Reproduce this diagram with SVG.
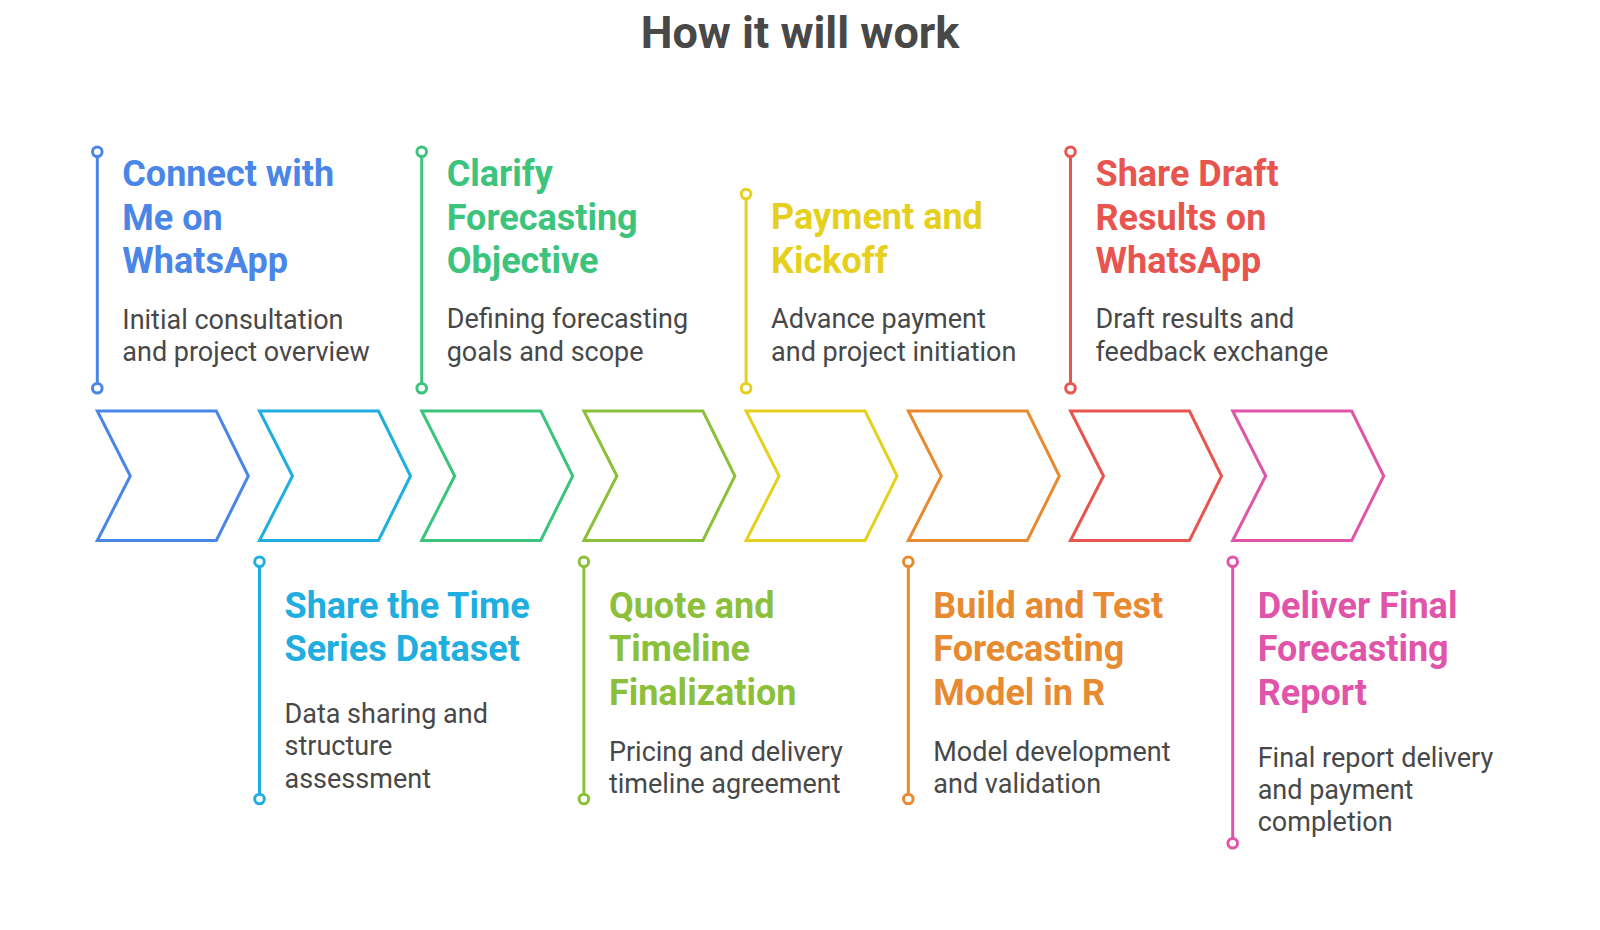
<svg xmlns="http://www.w3.org/2000/svg" width="1600" height="930" viewBox="0 0 1600 930">
<style>
.bg{fill:#ffffff}
.title{font-family:Roboto,"Liberation Sans",sans-serif;font-weight:700;font-size:45px;fill:#484848;text-anchor:middle}
.h{font-family:Roboto,"Liberation Sans",sans-serif;font-weight:700;font-size:36px}
.d{font-family:Roboto,"Liberation Sans",sans-serif;font-weight:400;font-size:27px;fill:#484848}
.chev{fill:none;stroke-width:3}
.ln{stroke-width:3;fill:none}
.dot{fill:#ffffff;stroke-width:3}
.c1{stroke:#4A86E8}.t1{fill:#4A86E8}
.c2{stroke:#20ADE0}.t2{fill:#20ADE0}
.c3{stroke:#3CC47C}.t3{fill:#3CC47C}
.c4{stroke:#8CC03A}.t4{fill:#8CC03A}
.c5{stroke:#E6D01E}.t5{fill:#E6D01E}
.c6{stroke:#E88A30}.t6{fill:#E88A30}
.c7{stroke:#E8554F}.t7{fill:#E8554F}
.c8{stroke:#E055AA}.t8{fill:#E055AA}
</style>
<rect class="bg" x="0" y="0" width="1600" height="930"/>
<text class="title" x="800" y="47.5">How it will work</text>

<g id="connectors">
  <line class="ln c1" x1="97.3" y1="156.5" x2="97.3" y2="383.5"/>
  <circle class="dot c1" cx="97.3" cy="151.7" r="4.8"/>
  <circle class="dot c1" cx="97.3" cy="388.3" r="4.8"/>
  <line class="ln c2" x1="259.5" y1="566.5" x2="259.5" y2="794.2"/>
  <circle class="dot c2" cx="259.5" cy="561.7" r="4.8"/>
  <circle class="dot c2" cx="259.5" cy="799" r="4.8"/>
  <line class="ln c3" x1="421.7" y1="156.5" x2="421.7" y2="383.5"/>
  <circle class="dot c3" cx="421.7" cy="151.7" r="4.8"/>
  <circle class="dot c3" cx="421.7" cy="388.3" r="4.8"/>
  <line class="ln c4" x1="583.9" y1="566.5" x2="583.9" y2="794.2"/>
  <circle class="dot c4" cx="583.9" cy="561.7" r="4.8"/>
  <circle class="dot c4" cx="583.9" cy="799" r="4.8"/>
  <line class="ln c5" x1="746.1" y1="198.8" x2="746.1" y2="383.5"/>
  <circle class="dot c5" cx="746.1" cy="194" r="4.8"/>
  <circle class="dot c5" cx="746.1" cy="388.3" r="4.8"/>
  <line class="ln c6" x1="908.3" y1="566.5" x2="908.3" y2="794.2"/>
  <circle class="dot c6" cx="908.3" cy="561.7" r="4.8"/>
  <circle class="dot c6" cx="908.3" cy="799" r="4.8"/>
  <line class="ln c7" x1="1070.5" y1="156.5" x2="1070.5" y2="383.5"/>
  <circle class="dot c7" cx="1070.5" cy="151.7" r="4.8"/>
  <circle class="dot c7" cx="1070.5" cy="388.3" r="4.8"/>
  <line class="ln c8" x1="1232.7" y1="566.5" x2="1232.7" y2="838.5"/>
  <circle class="dot c8" cx="1232.7" cy="561.7" r="4.8"/>
  <circle class="dot c8" cx="1232.7" cy="843.3" r="4.8"/>
</g>

<g id="step1">
  <path class="chev c1" d="M97.3 411 L216.3 411 L248.3 476 L216.3 540.5 L97.3 540.5 L130.3 476 Z"/>
  <text class="h t1" x="122.3" y="186">Connect with</text>
  <text class="h t1" x="122.3" y="229.5">Me on</text>
  <text class="h t1" x="122.3" y="273">WhatsApp</text>
  <text class="d" x="122.3" y="328.5">Initial consultation</text>
  <text class="d" x="122.3" y="361">and project overview</text>
</g>
<g id="step2">
  <path class="chev c2" d="M259.5 411 L378.5 411 L410.5 476 L378.5 540.5 L259.5 540.5 L292.5 476 Z"/>
  <text class="h t2" x="284.5" y="618">Share the Time</text>
  <text class="h t2" x="284.5" y="661.3">Series Dataset</text>
  <text class="d" x="284.5" y="722.7">Data sharing and</text>
  <text class="d" x="284.5" y="755.2">structure</text>
  <text class="d" x="284.5" y="787.7">assessment</text>
</g>
<g id="step3">
  <path class="chev c3" d="M421.7 411 L540.7 411 L572.7 476 L540.7 540.5 L421.7 540.5 L454.7 476 Z"/>
  <text class="h t3" x="446.7" y="186">Clarify</text>
  <text class="h t3" x="446.7" y="229.5">Forecasting</text>
  <text class="h t3" x="446.7" y="273">Objective</text>
  <text class="d" x="446.7" y="328">Defining forecasting</text>
  <text class="d" x="446.7" y="360.5">goals and scope</text>
</g>
<g id="step4">
  <path class="chev c4" d="M583.9 411 L702.9 411 L734.9 476 L702.9 540.5 L583.9 540.5 L616.9 476 Z"/>
  <text class="h t4" x="608.9" y="618">Quote and</text>
  <text class="h t4" x="608.9" y="661.3">Timeline</text>
  <text class="h t4" x="608.9" y="705">Finalization</text>
  <text class="d" x="608.9" y="761">Pricing and delivery</text>
  <text class="d" x="608.9" y="793">timeline agreement</text>
</g>
<g id="step5">
  <path class="chev c5" d="M746.1 411 L865.1 411 L897.1 476 L865.1 540.5 L746.1 540.5 L779.1 476 Z"/>
  <text class="h t5" x="771.1" y="229.3">Payment and</text>
  <text class="h t5" x="771.1" y="272.7">Kickoff</text>
  <text class="d" x="771.1" y="328">Advance payment</text>
  <text class="d" x="771.1" y="360.7">and project initiation</text>
</g>
<g id="step6">
  <path class="chev c6" d="M908.3 411 L1027.3 411 L1059.3 476 L1027.3 540.5 L908.3 540.5 L941.3 476 Z"/>
  <text class="h t6" x="933.3" y="618">Build and Test</text>
  <text class="h t6" x="933.3" y="661.3">Forecasting</text>
  <text class="h t6" x="933.3" y="705">Model in R</text>
  <text class="d" x="933.3" y="761">Model development</text>
  <text class="d" x="933.3" y="793">and validation</text>
</g>
<g id="step7">
  <path class="chev c7" d="M1070.5 411 L1189.5 411 L1221.5 476 L1189.5 540.5 L1070.5 540.5 L1103.5 476 Z"/>
  <text class="h t7" x="1095.5" y="186">Share Draft</text>
  <text class="h t7" x="1095.5" y="229.5">Results on</text>
  <text class="h t7" x="1095.5" y="273">WhatsApp</text>
  <text class="d" x="1095.5" y="328">Draft results and</text>
  <text class="d" x="1095.5" y="360.5">feedback exchange</text>
</g>
<g id="step8">
  <path class="chev c8" d="M1232.7 411 L1351.7 411 L1383.7 476 L1351.7 540.5 L1232.7 540.5 L1265.7 476 Z"/>
  <text class="h t8" x="1257.7" y="618">Deliver Final</text>
  <text class="h t8" x="1257.7" y="661.3">Forecasting</text>
  <text class="h t8" x="1257.7" y="705">Report</text>
  <text class="d" x="1257.7" y="766.5">Final report delivery</text>
  <text class="d" x="1257.7" y="798.8">and payment</text>
  <text class="d" x="1257.7" y="831">completion</text>
</g>
</svg>
